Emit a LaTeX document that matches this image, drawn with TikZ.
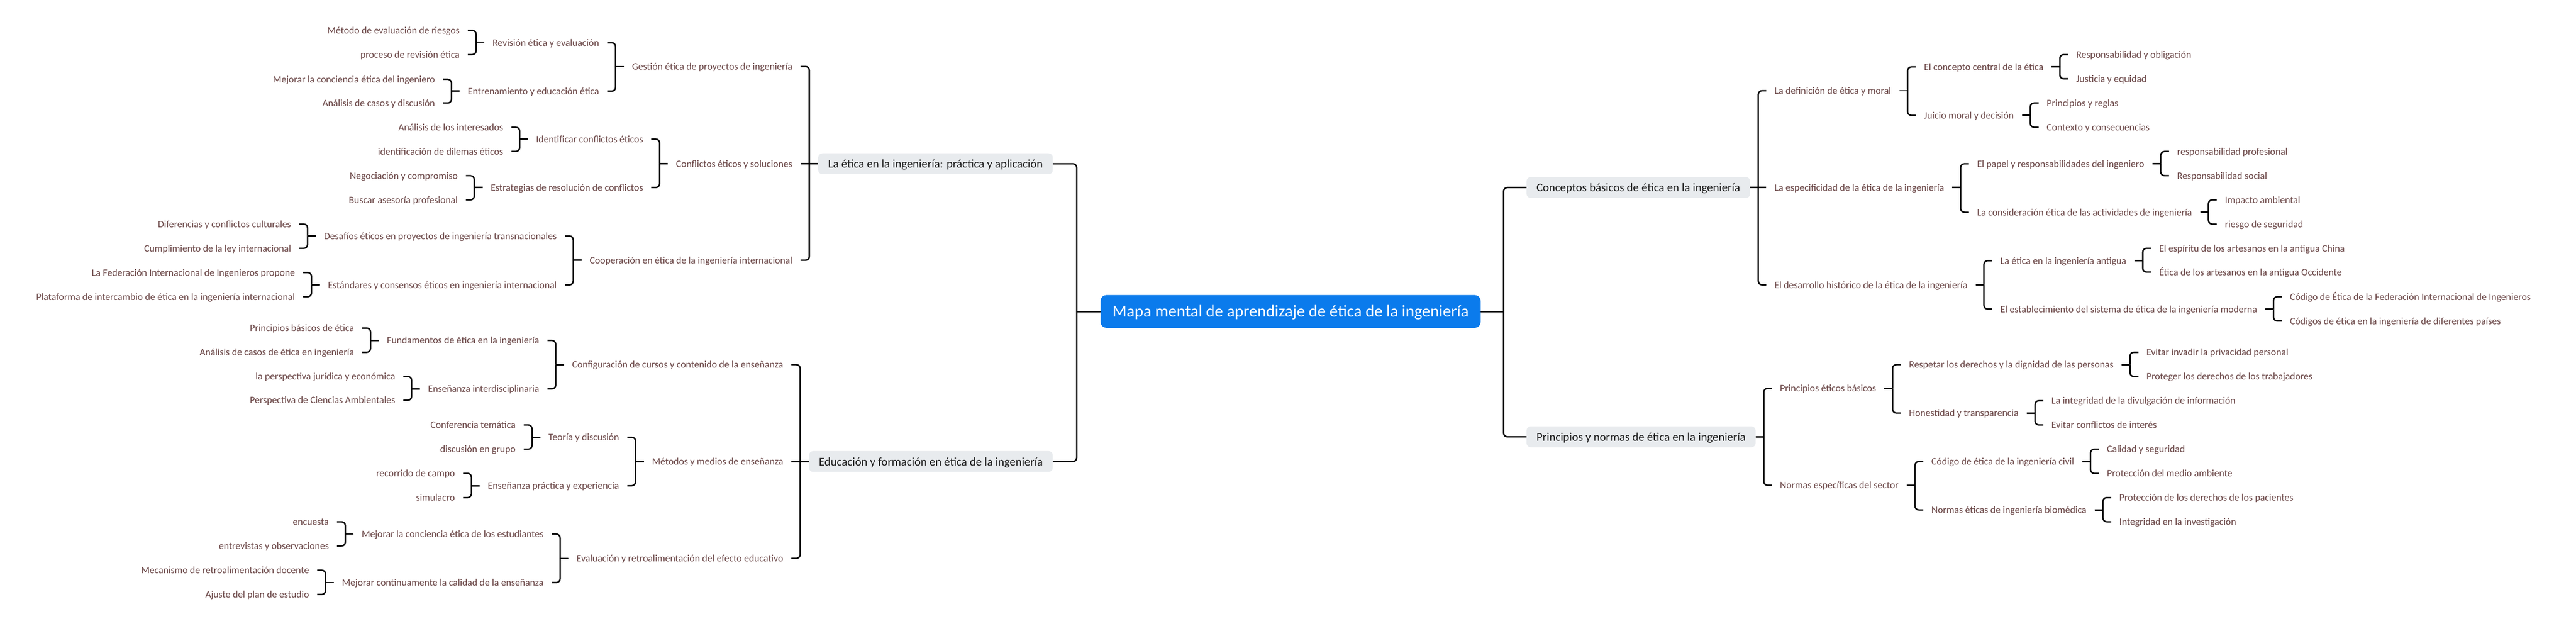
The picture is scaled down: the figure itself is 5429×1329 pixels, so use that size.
\documentclass[tikz,border=0pt]{standalone}
\usepackage{fontspec}
\setmainfont{Carlito}
\usetikzlibrary{positioning,calc}
\definecolor{rootblue}{HTML}{0B7BEC}
\definecolor{topicgray}{HTML}{E8EBEE}
\definecolor{topicink}{HTML}{1E1E1E}
\definecolor{leafbrown}{HTML}{6A4646}
\tikzset{
  rootnode/.style={fill=rootblue,text=white,rounded corners=12pt,inner xsep=25pt,inner ysep=0pt,
    minimum height=69pt,text height=23pt,text depth=0pt,font=\fontsize{35}{38}\selectfont},
  topicnode/.style={fill=topicgray,text=topicink,rounded corners=9pt,inner xsep=21pt,inner ysep=0pt,
    minimum height=44pt,text height=17pt,text depth=0pt,font=\fontsize{24.8}{27}\selectfont},
  leaf/.style={text=leafbrown,inner xsep=17pt,inner ysep=0pt,text height=14pt,text depth=0pt,
    font=\fontsize{20.8}{23}\selectfont},
  link/.style={draw=black,line width=3pt},
}
% children on the left of #1
\newcommand{\forkleft}[2]{
\foreach \kid in {#2}{
  \draw[link] let \p1=(#1.west), \p2=(\kid.east) in (\p1) -- ({(\x1+\x2)/2},\y1);
  \draw[link,rounded corners=8pt] let \p1=(#1.west), \p2=(\kid.east) in ({(\x1+\x2)/2},\y1) |- (\p2);
}
}
% children on the right of #1
\newcommand{\forkright}[2]{
\foreach \kid in {#2}{
  \draw[link] let \p1=(#1.east), \p2=(\kid.west) in (\p1) -- ({(\x1+\x2)/2},\y1);
  \draw[link,rounded corners=8pt] let \p1=(#1.east), \p2=(\kid.west) in ({(\x1+\x2)/2},\y1) |- (\p2);
}
}
\begin{document}
\begin{tikzpicture}[x=1pt,y=-1pt]
\fill[white] (0,0) rectangle (5429,1329);

\node[rootnode] (root) at (2720,656) {Mapa mental de aprendizaje de ética de la ingeniería};

\node[topicnode,anchor=east] (A) at (2219,345) {La ética en la ingeniería: práctica y aplicación};
\node[topicnode,anchor=east] (B) at (2219,972) {Educación y formación en ética de la ingeniería};
\node[topicnode,anchor=west] (C) at (3217,395) {Conceptos básicos de ética en la ingeniería};
\node[topicnode,anchor=west] (D) at (3217,920) {Principios y normas de ética en la ingeniería};

% La ética en la ingeniería
\node[leaf,left=37pt of A,yshift=205pt] (A1) {Gestión ética de proyectos de ingeniería};
\node[leaf,left=37pt of A] (A2) {Conflictos éticos y soluciones};
\node[leaf,left=37pt of A,yshift=-203pt] (A3) {Cooperación en ética de la ingeniería internacional};
\node[leaf,left=35pt of A1,yshift=50pt] (A11) {Revisión ética y evaluación};
\node[leaf,left=35pt of A1,yshift=-52pt] (A12) {Entrenamiento y educación ética};
\node[leaf,left=35pt of A11,yshift=26pt] (A111) {Método de evaluación de riesgos};
\node[leaf,left=35pt of A11,yshift=-25pt] (A112) {proceso de revisión ética};
\node[leaf,left=35pt of A12,yshift=25pt] (A121) {Mejorar la conciencia ética del ingeniero};
\node[leaf,left=35pt of A12,yshift=-25pt] (A122) {Análisis de casos y discusión};
\node[leaf,left=35pt of A2,yshift=52pt] (A21) {Identificar conflictos éticos};
\node[leaf,left=35pt of A2,yshift=-50pt] (A22) {Estrategias de resolución de conflictos};
\node[leaf,left=35pt of A21,yshift=25pt] (A211) {Análisis de los interesados};
\node[leaf,left=35pt of A21,yshift=-26pt] (A212) {identificación de dilemas éticos};
\node[leaf,left=35pt of A22,yshift=25pt] (A221) {Negociación y compromiso};
\node[leaf,left=35pt of A22,yshift=-26pt] (A222) {Buscar asesoría profesional};
\node[leaf,left=35pt of A3,yshift=51pt] (A31) {Desafíos éticos en proyectos de ingeniería transnacionales};
\node[leaf,left=35pt of A3,yshift=-52pt] (A32) {Estándares y consensos éticos en ingeniería internacional};
\node[leaf,left=35pt of A31,yshift=25pt] (A311) {Diferencias y conflictos culturales};
\node[leaf,left=35pt of A31,yshift=-26pt] (A312) {Cumplimiento de la ley internacional};
\node[leaf,left=35pt of A32,yshift=26pt] (A321) {La Federación Internacional de Ingenieros propone};
\node[leaf,left=35pt of A32,yshift=-25pt] (A322) {Plataforma de intercambio de ética en la ingeniería internacional};

% Educación y formación
\node[leaf,left=37pt of B,yshift=204pt] (B1) {Configuración de cursos y contenido de la enseñanza};
\node[leaf,left=37pt of B] (B2) {Métodos y medios de enseñanza};
\node[leaf,left=37pt of B,yshift=-204pt] (B3) {Evaluación y retroalimentación del efecto educativo};
\node[leaf,left=35pt of B1,yshift=51pt] (B11) {Fundamentos de ética en la ingeniería};
\node[leaf,left=35pt of B1,yshift=-51pt] (B12) {Enseñanza interdisciplinaria};
\node[leaf,left=35pt of B11,yshift=26pt] (B111) {Principios básicos de ética};
\node[leaf,left=35pt of B11,yshift=-25pt] (B112) {Análisis de casos de ética en ingeniería};
\node[leaf,left=35pt of B12,yshift=26pt] (B121) {la perspectiva jurídica y económica};
\node[leaf,left=35pt of B12,yshift=-24pt] (B122) {Perspectiva de Ciencias Ambientales};
\node[leaf,left=35pt of B2,yshift=51pt] (B21) {Teoría y discusión};
\node[leaf,left=35pt of B2,yshift=-51pt] (B22) {Enseñanza práctica y experiencia};
\node[leaf,left=35pt of B21,yshift=26pt] (B211) {Conferencia temática};
\node[leaf,left=35pt of B21,yshift=-25pt] (B212) {discusión en grupo};
\node[leaf,left=35pt of B22,yshift=26pt] (B221) {recorrido de campo};
\node[leaf,left=35pt of B22,yshift=-25pt] (B222) {simulacro};
\node[leaf,left=35pt of B3,yshift=51pt] (B31) {Mejorar la conciencia ética de los estudiantes};
\node[leaf,left=35pt of B3,yshift=-51pt] (B32) {Mejorar continuamente la calidad de la enseñanza};
\node[leaf,left=35pt of B31,yshift=26pt] (B311) {encuesta};
\node[leaf,left=35pt of B31,yshift=-25pt] (B312) {entrevistas y observaciones};
\node[leaf,left=35pt of B32,yshift=26pt] (B321) {Mecanismo de retroalimentación docente};
\node[leaf,left=35pt of B32,yshift=-25pt] (B322) {Ajuste del plan de estudio};

% Conceptos básicos
\node[leaf,right=34pt of C,yshift=204pt] (C1) {La definición de ética y moral};
\node[leaf,right=34pt of C] (C2) {La especificidad de la ética de la ingeniería};
\node[leaf,right=34pt of C,yshift=-205pt] (C3) {El desarrollo histórico de la ética de la ingeniería};
\node[leaf,right=35pt of C1,yshift=50pt] (C11) {El concepto central de la ética};
\node[leaf,right=35pt of C1,yshift=-52pt] (C12) {Juicio moral y decisión};
\node[leaf,right=35pt of C11,yshift=26pt] (C111) {Responsabilidad y obligación};
\node[leaf,right=35pt of C11,yshift=-25pt] (C112) {Justicia y equidad};
\node[leaf,right=35pt of C12,yshift=26pt] (C121) {Principios y reglas};
\node[leaf,right=35pt of C12,yshift=-25pt] (C122) {Contexto y consecuencias};
\node[leaf,right=35pt of C2,yshift=50pt] (C21) {El papel y responsabilidades del ingeniero};
\node[leaf,right=35pt of C2,yshift=-52pt] (C22) {La consideración ética de las actividades de ingeniería};
\node[leaf,right=35pt of C21,yshift=26pt] (C211) {responsabilidad profesional};
\node[leaf,right=35pt of C21,yshift=-25pt] (C212) {Responsabilidad social};
\node[leaf,right=35pt of C22,yshift=26pt] (C221) {Impacto ambiental};
\node[leaf,right=35pt of C22,yshift=-25pt] (C222) {riesgo de seguridad};
\node[leaf,right=35pt of C3,yshift=51pt] (C31) {La ética en la ingeniería antigua};
\node[leaf,right=35pt of C3,yshift=-51pt] (C32) {El establecimiento del sistema de ética de la ingeniería moderna};
\node[leaf,right=35pt of C31,yshift=26pt] (C311) {El espíritu de los artesanos en la antigua China};
\node[leaf,right=35pt of C31,yshift=-24pt] (C312) {Ética de los artesanos en la antigua Occidente};
\node[leaf,right=35pt of C32,yshift=26pt] (C321) {Código de Ética de la Federación Internacional de Ingenieros};
\node[leaf,right=35pt of C32,yshift=-25pt] (C322) {Códigos de ética en la ingeniería de diferentes países};

% Principios y normas
\node[leaf,right=34pt of D,yshift=102pt] (D1) {Principios éticos básicos};
\node[leaf,right=34pt of D,yshift=-102pt] (D2) {Normas específicas del sector};
\node[leaf,right=35pt of D1,yshift=50pt] (D11) {Respetar los derechos y la dignidad de las personas};
\node[leaf,right=35pt of D1,yshift=-52pt] (D12) {Honestidad y transparencia};
\node[leaf,right=35pt of D11,yshift=26pt] (D111) {Evitar invadir la privacidad personal};
\node[leaf,right=35pt of D11,yshift=-25pt] (D112) {Proteger los derechos de los trabajadores};
\node[leaf,right=35pt of D12,yshift=26pt] (D121) {La integridad de la divulgación de información};
\node[leaf,right=35pt of D12,yshift=-25pt] (D122) {Evitar conflictos de interés};
\node[leaf,right=35pt of D2,yshift=50pt] (D21) {Código de ética de la ingeniería civil};
\node[leaf,right=35pt of D2,yshift=-52pt] (D22) {Normas éticas de ingeniería biomédica};
\node[leaf,right=35pt of D21,yshift=26pt] (D211) {Calidad y seguridad};
\node[leaf,right=35pt of D21,yshift=-25pt] (D212) {Protección del medio ambiente};
\node[leaf,right=35pt of D22,yshift=26pt] (D221) {Protección de los derechos de los pacientes};
\node[leaf,right=35pt of D22,yshift=-25pt] (D222) {Integridad en la investigación};

% connectors
\forkleft{root}{A,B}
\forkright{root}{C,D}
\forkleft{A}{A1,A3}
\draw[link] (A.west) -- (A2.east);
\forkleft{A1}{A11,A12}
\forkleft{A11}{A111,A112}
\forkleft{A12}{A121,A122}
\forkleft{A2}{A21,A22}
\forkleft{A21}{A211,A212}
\forkleft{A22}{A221,A222}
\forkleft{A3}{A31,A32}
\forkleft{A31}{A311,A312}
\forkleft{A32}{A321,A322}
\forkleft{B}{B1,B3}
\draw[link] (B.west) -- (B2.east);
\forkleft{B1}{B11,B12}
\forkleft{B11}{B111,B112}
\forkleft{B12}{B121,B122}
\forkleft{B2}{B21,B22}
\forkleft{B21}{B211,B212}
\forkleft{B22}{B221,B222}
\forkleft{B3}{B31,B32}
\forkleft{B31}{B311,B312}
\forkleft{B32}{B321,B322}
\forkright{C}{C1,C3}
\draw[link] (C.east) -- (C2.west);
\forkright{C1}{C11,C12}
\forkright{C11}{C111,C112}
\forkright{C12}{C121,C122}
\forkright{C2}{C21,C22}
\forkright{C21}{C211,C212}
\forkright{C22}{C221,C222}
\forkright{C3}{C31,C32}
\forkright{C31}{C311,C312}
\forkright{C32}{C321,C322}
\forkright{D}{D1,D2}
\forkright{D1}{D11,D12}
\forkright{D11}{D111,D112}
\forkright{D12}{D121,D122}
\forkright{D2}{D21,D22}
\forkright{D21}{D211,D212}
\forkright{D22}{D221,D222}
\end{tikzpicture}
\end{document}
